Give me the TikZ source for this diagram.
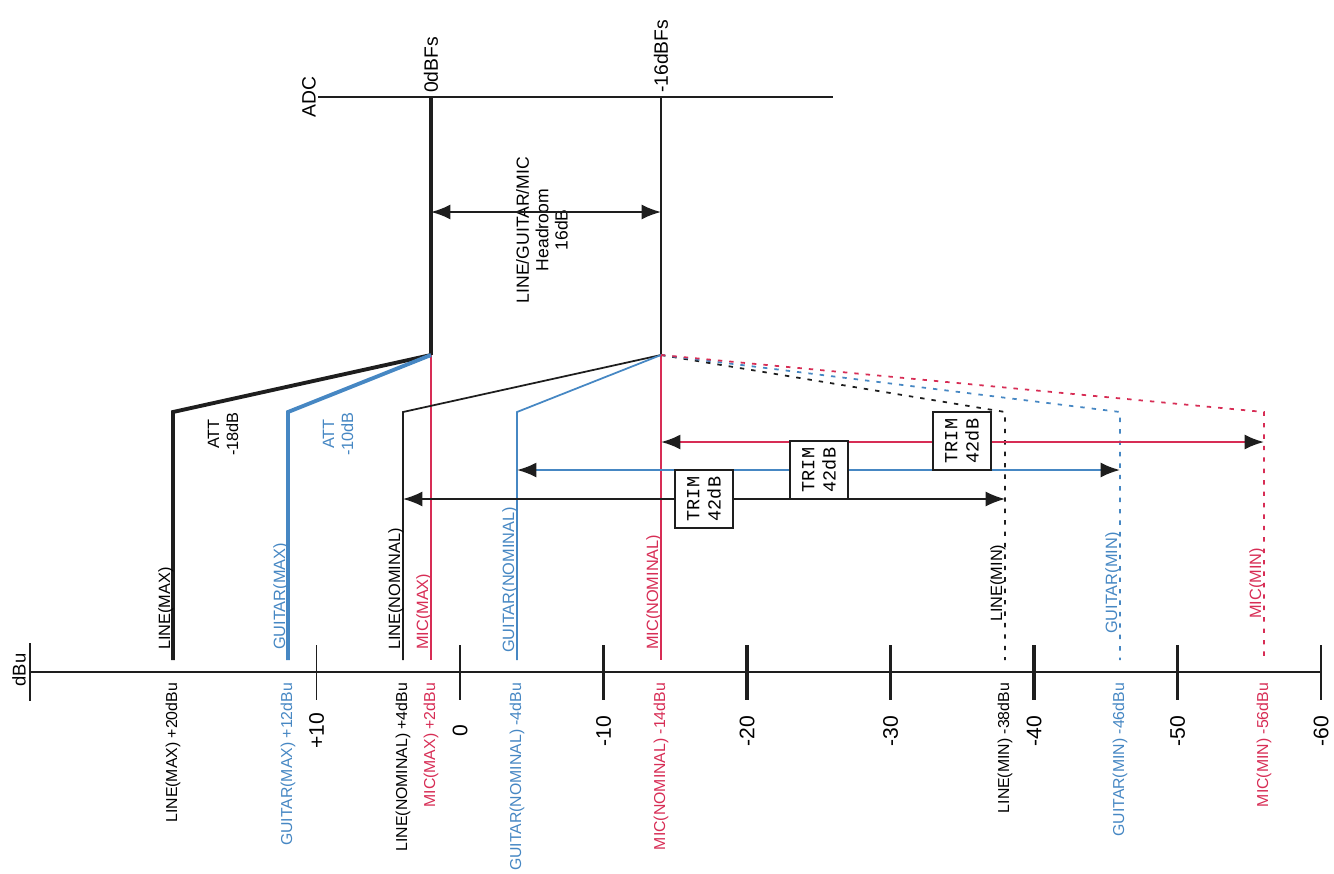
\documentclass[tikz,border=0pt]{standalone}
\usepackage{fontspec}
\setmainfont{Liberation Sans}
\setmonofont{Liberation Mono}
\usetikzlibrary{arrows.meta}
\definecolor{gblue}{RGB}{70,135,195}
\definecolor{mred}{RGB}{215,45,85}
\definecolor{lblack}{RGB}{30,30,30}
\tikzset{
  lbl/.style={rotate=90,inner sep=1pt,font=\fontsize{9.3}{11}\selectfont},
  toplbl/.style={lbl,anchor=base west},
  botlbl/.style={lbl,anchor=east,font=\fontsize{9}{11}\selectfont},
  nums/.style={rotate=90,inner sep=1pt,font=\fontsize{12}{14}\selectfont},
  trimbox/.style={draw=lblack,line width=1.3pt,fill=white,rotate=90,minimum size=1.15cm,
    inner sep=0pt,align=center,font=\ttfamily\fontsize{10.5}{12}\selectfont},
  dimline/.style={{Latex[length=11pt,width=8.5pt,color=lblack]}-{Latex[length=11pt,width=8.5pt,color=lblack]}},
  minline/.style={line width=1pt,dash pattern=on 2.5pt off 4pt}
}
\begin{document}
\begin{tikzpicture}[x=0.02cm,y=-0.02cm,line join=miter]
                      \useasboundingbox (0,0) rectangle (1334,873);
                      % ADC side
                      \coordinate (adcL) at (318,97);
                      \coordinate (adcR) at (833,97);
                      \coordinate (fs0) at (431,97);
                      \coordinate (fs16) at (661,97);
                      \coordinate (j0) at (431,355);
                      \coordinate (j16) at (661,355);
                      % corners and ends of the signal lines
                      \coordinate (lmaxC) at (173,412);  \coordinate (lmaxE) at (173,660);
                      \coordinate (gmaxC) at (288,412);  \coordinate (gmaxE) at (288,660);
                      \coordinate (mmaxE) at (431,660);
                      \coordinate (lnomC) at (403,412);  \coordinate (lnomE) at (403,660);
                      \coordinate (gnomC) at (517,412);  \coordinate (gnomE) at (517,660);
                      \coordinate (mnomE) at (661,660);
                      \coordinate (lminC) at (1005,412); \coordinate (lminE) at (1005,660);
                      \coordinate (gminC) at (1120,412); \coordinate (gminE) at (1120,660);
                      \coordinate (mminC) at (1264,412); \coordinate (mminE) at (1264,660);
                      % dBu axis
                      \coordinate (axL) at (30,672);
                      \coordinate (axR) at (1322,672);
                      \draw[lblack,line width=0.9pt] (30,643) -- (30,701);
                      \draw[lblack,line width=0.9pt] (axL) -- (axR);
                      \node[rotate=90,anchor=south,inner sep=1pt,font=\fontsize{10.5}{12}\selectfont] (dbu) at (28,670) {dBu};
                      \foreach \v/\t/\w [count=\i] in {10/+10/0.9pt,0/0/0.9pt,-10/-10/1.8pt,-20/-20/1.8pt,-30/-30/1.8pt,-40/-40/1.8pt,-50/-50/1.8pt,-60/-60/0.9pt}
                      {
                        \draw[lblack,line width=\w] ({460-14.35*(\v)},645) coordinate (tk\i) -- ({460-14.35*(\v)},700);
                        \node[nums] (tl\i) at ({460-14.35*(\v)},731) {\t};
                      }
                      % ADC line and headroom
                      \draw[lblack,line width=1.1pt] (adcL) -- (adcR);
                      \node[rotate=90,anchor=south,inner sep=1pt,font=\fontsize{11}{13}\selectfont] (adc) at (adcL) {ADC};
                      \node[rotate=90,anchor=west,inner sep=1pt,font=\fontsize{11}{13}\selectfont] (lbl0) at (431,95) {0dBFs};
                      \node[rotate=90,anchor=west,inner sep=1pt,font=\fontsize{11}{13}\selectfont] (lbl16) at (661,95) {-16dBFs};
                      \node[rotate=90,align=center,font=\fontsize{10}{11}\selectfont] (head) at (542,230) {LINE/GUITAR/MIC\\Headroom\\16dB};
                      \draw[lblack,line width=1.8pt] (fs0) -- (j0);
                      \draw[lblack,line width=1.1pt] (fs16) -- (j16);
                      \draw[lblack,line width=1.1pt,dimline] (431,212) coordinate (hrL) -- (661,212) coordinate (hrR);
                      % maximum levels
                      \draw[mred,line width=1.6pt] (j0) -- (mmaxE);
                      \draw[lblack,line width=2.2pt] (j0) -- (lmaxC) -- (lmaxE);
                      \draw[gblue,line width=2.2pt] (j0) -- (gmaxC) -- (gmaxE);
                      \node[rotate=90,align=center,font=\fontsize{9.3}{10.8}\selectfont] (attL) at (223,434) {ATT\\-18dB};
                      \node[rotate=90,align=center,text=gblue,font=\fontsize{9.3}{10.8}\selectfont] (attG) at (338,434) {ATT\\-10dB};
                      % nominal levels
                      \draw[mred,line width=1pt] (j16) -- (mnomE);
                      \draw[lblack,line width=1pt] (j16) -- (lnomC) -- (lnomE);
                      \draw[gblue,line width=1pt] (j16) -- (gnomC) -- (gnomE);
                      % minimum levels
                      \draw[lblack,minline] (j16) -- (lminC) -- (lminE);
                      \draw[gblue,minline] (j16) -- (gminC) -- (gminE);
                      \draw[mred,minline] (j16) -- (mminC) -- (mminE);
                      % trim ranges
                      \draw[mred,line width=1.2pt,dimline] (661,442) coordinate (trMa) -- (1264,442) coordinate (trMb);
                      \draw[gblue,line width=1.2pt,dimline] (517,470) coordinate (trGa) -- (1120,470) coordinate (trGb);
                      \draw[lblack,line width=0.9pt,dimline] (403,499) coordinate (trLa) -- (1005,499) coordinate (trLb);
                      \node[trimbox] (trimL) at (704,499) {TRIM\\42dB};
                      \node[trimbox] (trimG) at (819,470) {TRIM\\42dB};
                      \node[trimbox] (trimM) at (962,441) {TRIM\\42dB};
                      % labels on the lines
                      \node[toplbl] (nLmax) at (170,652) {LINE(MAX)};
                      \node[toplbl,text=gblue] (nGmax) at (285,652) {GUITAR(MAX)};
                      \node[toplbl] (nLnom) at (400,652) {LINE(NOMINAL)};
                      \node[toplbl,text=mred] (nMmax) at (428,652) {MIC(MAX)};
                      \node[toplbl,text=gblue] (nGnom) at (514,655) {GUITAR(NOMINAL)};
                      \node[toplbl,text=mred] (nMnom) at (658,652) {MIC(NOMINAL)};
                      \node[toplbl] (nLmin) at (1002,624) {LINE(MIN)};
                      \node[toplbl,text=gblue] (nGmin) at (1117,636) {GUITAR(MIN)};
                      \node[toplbl,text=mred] (nMmin) at (1261,621) {MIC(MIN)};
                      % labels under the axis
                      \node[botlbl] (bLmax) at (173,681) {LINE(MAX) +20dBu};
                      \node[botlbl,text=gblue] (bGmax) at (288,681) {GUITAR(MAX) +12dBu};
                      \node[botlbl] (bLnom) at (403,681) {LINE(NOMINAL) +4dBu};
                      \node[botlbl,text=mred] (bMmax) at (431,681) {MIC(MAX) +2dBu};
                      \node[botlbl,text=gblue] (bGnom) at (517,681) {GUITAR(NOMINAL) -4dBu};
                      \node[botlbl,text=mred] (bMnom) at (661,681) {MIC(NOMINAL) -14dBu};
                      \node[botlbl] (bLmin) at (1005,681) {LINE(MIN) -38dBu};
                      \node[botlbl,text=gblue] (bGmin) at (1120,681) {GUITAR(MIN) -46dBu};
                      \node[botlbl,text=mred] (bMmin) at (1264,681) {MIC(MIN) -56dBu};
                  \end{tikzpicture}
\end{document}
